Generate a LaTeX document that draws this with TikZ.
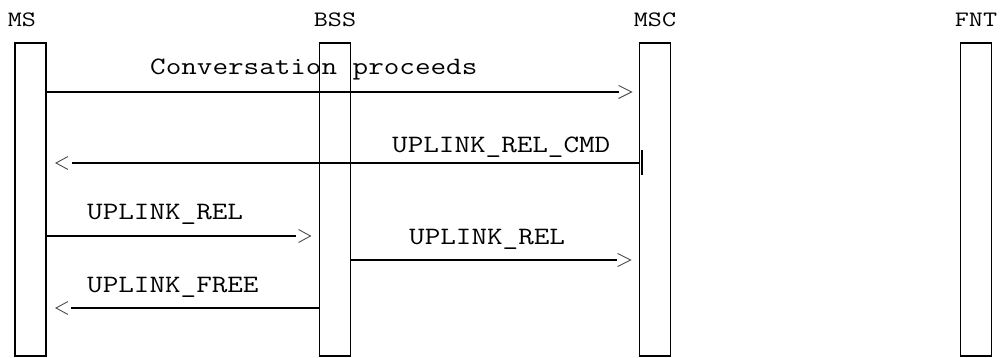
\documentclass[tikz,border=0pt]{standalone}
\usepackage{graphicx}
\newcommand{\headtxt}[1]{\scalebox{1.24}[1]{\fontsize{22}{26}\selectfont\ttfamily #1}}
\newcommand{\msgtxt}[1]{\scalebox{1.21}[1]{\fontsize{25}{30}\selectfont\ttfamily #1}}
\begin{document}
\begin{tikzpicture}[x=1pt,y=-1pt,
  lifeline/.style={draw=black,line width=1.6pt,minimum width=31pt,minimum height=313pt,inner sep=0pt,outer sep=0pt},
  head/.style={anchor=base,inner sep=0pt},
  msgtext/.style={anchor=base west,inner sep=0pt},
  msgline/.style={line width=2pt,black},
  chev/.style={line width=0.9pt,black!70}
]
\useasboundingbox (0,0) rectangle (1001,358);
% lifelines
\node[lifeline] (MS)  at (30.5,199.5) {};
\node[lifeline] (BSS) at (335,199.5) {};
\node[lifeline] (MSC) at (655,199.5) {};
\node[lifeline] (FNT) at (976,199.5) {};
% thicker top and bottom edges
\foreach \n in {MS,BSS,MSC,FNT}{
  \draw[line width=2.6pt] (\n.north west) -- (\n.north east);
  \draw[line width=2.6pt] (\n.south west) -- (\n.south east);
}
% headers
\node[head] (hMS)  at (22,27) {\headtxt{MS}};
\node[head] (hBSS) at (335,27) {\headtxt{BSS}};
\node[head] (hMSC) at (655,27) {\headtxt{MSC}};
\node[head] (hFNT) at (976,27) {\headtxt{FNT}};
% message rows
\coordinate (r1) at (0,92);
\coordinate (r2) at (0,163);
\coordinate (r3) at (0,236);
\coordinate (r4) at (0,260);
\coordinate (r5) at (0,308);
% 1: MS -> MSC
\draw[msgline,shorten >=21pt] (MS.east |- r1) -- (MSC.west |- r1);
\draw[chev] ([xshift=-8pt]MSC.west |- r1) ++(-13,-6.5) -- ++(13,6.5) -- ++(-13,6.5);
\node[msgtext] (t1) at (150,75) {\msgtxt{Conversation proceeds}};
% 2: MSC -> MS
\draw[msgline,shorten >=26pt] (MSC.west |- r2) -- (MS.east |- r2);
\draw[line width=2pt] ([xshift=2.5pt,yshift=-12pt]MSC.west |- r2) -- ([xshift=2.5pt,yshift=13pt]MSC.west |- r2);
\draw[chev] ([xshift=10pt]MS.east |- r2) ++(12,-6.5) -- ++(-12,6.5) -- ++(12,6.5);
\node[msgtext] (t2) at (392,153) {\msgtxt{UPLINK\_REL\_CMD}};
% 3: MS -> BSS
\draw[msgline,shorten >=24pt] (MS.east |- r3) -- (BSS.west |- r3);
\draw[chev] ([xshift=-9pt]BSS.west |- r3) ++(-12,-6.5) -- ++(12,6.5) -- ++(-12,6.5);
\node[msgtext] (t3) at (87,220) {\msgtxt{UPLINK\_REL}};
% 4: BSS -> MSC
\draw[msgline,shorten >=23pt] (BSS.east |- r4) -- (MSC.west |- r4);
\draw[chev] ([xshift=-9pt]MSC.west |- r4) ++(-13,-6.5) -- ++(13,6.5) -- ++(-13,6.5);
\node[msgtext] (t4) at (409,244) {\msgtxt{UPLINK\_REL}};
% 5: BSS -> MS
\draw[msgline,shorten >=25pt] (BSS.west |- r5) -- (MS.east |- r5);
\draw[chev] ([xshift=10pt]MS.east |- r5) ++(12,-6.5) -- ++(-12,6.5) -- ++(12,6.5);
\node[msgtext] (t5) at (87,292) {\msgtxt{UPLINK\_FREE}};
\end{tikzpicture}
\end{document}
